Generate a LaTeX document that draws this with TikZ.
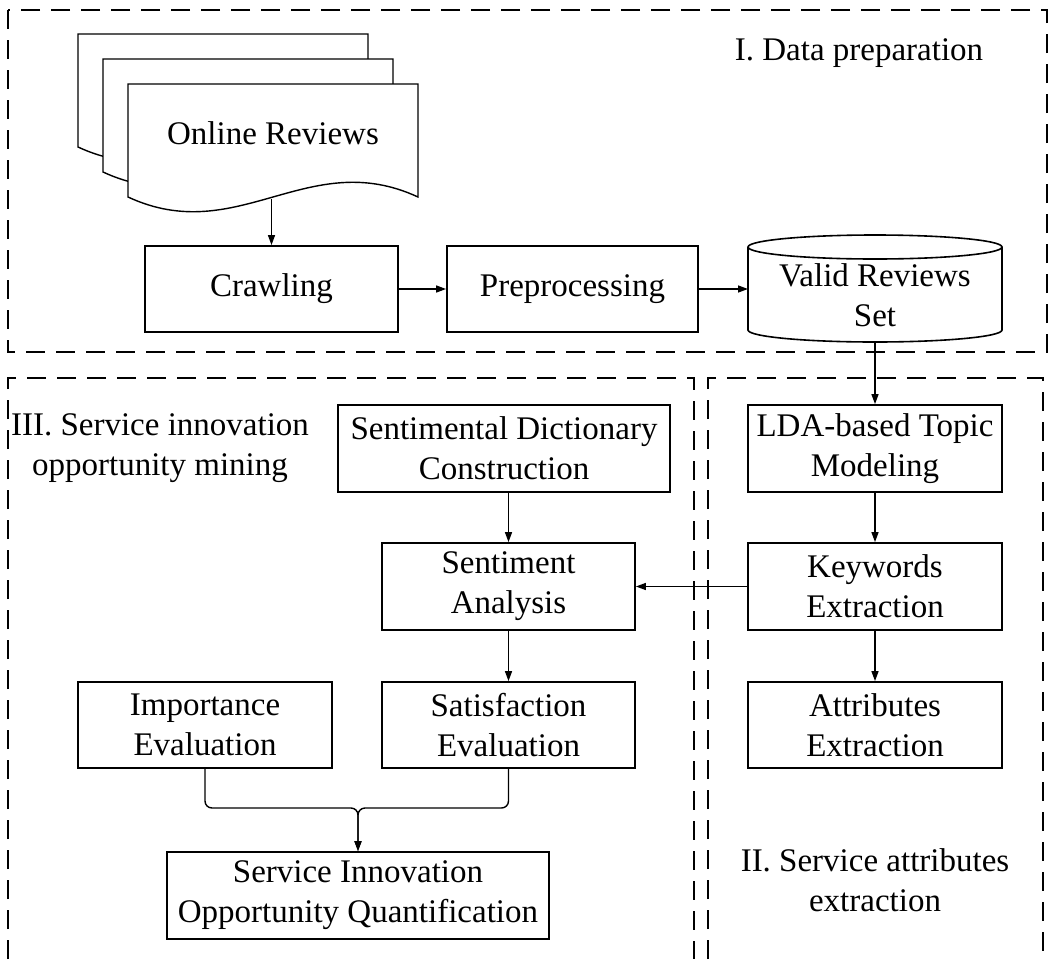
\documentclass[tikz,border=0pt]{standalone}
\usepackage{fontspec}
\setmainfont{Liberation Serif}
\usetikzlibrary{arrows.meta}
\tikzset{
  box/.style={draw, line width=1.8pt, align=center, inner sep=0pt, fill=white},
  frame/.style={line width=1.8pt, dash pattern=on 19pt off 11pt},
  conn/.style={line width=1.4pt, -{Triangle[length=10pt,width=7pt]}},
  pagedoc/.style={draw, line width=1.4pt, fill=white},
  lbl/.style={align=center, inner sep=0pt}
}
\newcommand\docpage[2]{%
  \begin{scope}[shift={(#1,#2)}]
    \path[pagedoc] (0,0) -- (290,0) -- (290,113) .. controls (180,62) and (110,164) .. (0,113) -- cycle;
  \end{scope}}
\begin{document}
\begin{tikzpicture}[x=1pt,y=-1pt, font=\fontsize{33}{40}\selectfont]
\useasboundingbox (0,0) rectangle (1050,959);
\fill[white] (0,0) rectangle (1050,959);
% frames
\draw[frame] (8,10) rectangle (1047,352);
\draw[frame] (8,959) -- (8,378) -- (694,378) -- (694,959);
\draw[frame] (708,959) -- (708,378) -- (1043,378) -- (1043,959);
% document stack
\docpage{78}{34}
\docpage{103}{59}
\docpage{128}{84}
\node[lbl] (docs) at (273,133) {Online Reviews};
\coordinate (docbot) at (271.5,199);
% boxes
\node[box, minimum width=253pt, minimum height=86pt] (crawl) at (271.5,289) {Crawling};
\node[box, minimum width=251pt, minimum height=86pt] (prep) at (572.5,289) {Preprocessing};
% cylinder
\draw[line width=1.6pt, fill=white] (748,247) -- (748,330) arc[start angle=180, end angle=360, x radius=127pt, y radius=12pt] -- (1002,247);
\draw[line width=1.6pt, fill=white] (875,247) ellipse [x radius=127pt, y radius=12pt];
\node[lbl] (valid) at (875,295) {Valid Reviews\\Set};
\coordinate (validbot) at (875,342);
\coordinate (validleft) at (748,289);
\node[box, minimum width=254pt, minimum height=87pt] (lda) at (875,448.5) {LDA-based Topic\\Modeling};
\node[box, minimum width=332pt, minimum height=87pt] (sdc) at (504,448.5) {Sentimental Dictionary\\Construction};
\node[box, minimum width=253pt, minimum height=87pt] (sa) at (508.5,586.5) {Sentiment\\Analysis};
\node[box, minimum width=254pt, minimum height=87pt] (kw) at (875,586.5) {Keywords\\Extraction};
\node[box, minimum width=254pt, minimum height=86pt] (imp) at (205,725) {Importance\\Evaluation};
\node[box, minimum width=253pt, minimum height=86pt] (sat) at (508.5,725) {Satisfaction\\Evaluation};
\node[box, minimum width=254pt, minimum height=86pt] (attr) at (875,725) {Attributes\\Extraction};
\node[box, minimum width=382pt, minimum height=87pt] (svc) at (358,895.5) {Service Innovation\\Opportunity Quantification};
% labels
\node[lbl] (l1) at (859,53) {I. Data preparation};
\node[lbl] (l3) at (160,448) {III. Service innovation\\opportunity mining};
\node[lbl] (l2) at (875,880) {II. Service attributes\\extraction};
% connectors
\draw[conn] (docbot) -- (crawl.north);
\draw[conn] (crawl.east) -- (prep.west);
\draw[conn] (prep.east) -- (validleft);
\draw[conn] (validbot) -- (lda.north);
\draw[conn] (lda.south) -- (kw.north);
\draw[conn] (kw.south) -- (attr.north);
\draw[conn] (kw.west) -- (sa.east);
\draw[conn] (sdc.south -| sa.north) -- (sa.north);
\draw[conn] (sa.south) -- (sat.north);
\coordinate (join) at (358,808);
\draw[conn, rounded corners=7pt] (imp.south) |- (join) -- (svc.north);
\draw[conn, rounded corners=7pt] (sat.south) |- (join) -- (svc.north);
\end{tikzpicture}
\end{document}
